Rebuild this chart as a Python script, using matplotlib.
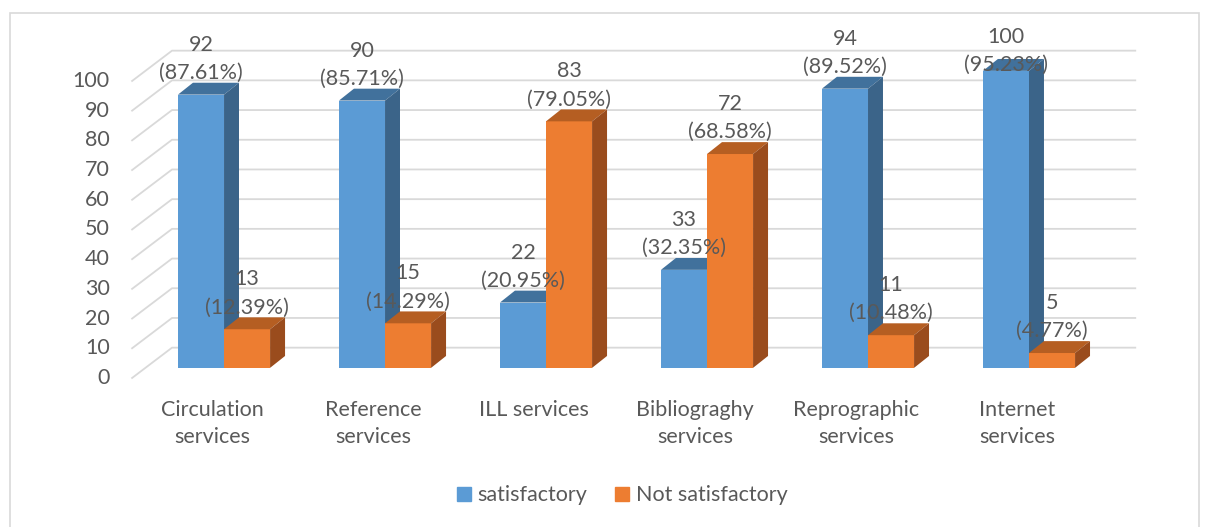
import matplotlib.pyplot as plt
from matplotlib.patches import Polygon, Rectangle, Patch

categories = ["Circulation\nservices", "Reference\nservices", "ILL services",
              "Bibliograghy\nservices", "Reprographic\nservices", "Internet\nservices"]
satisfactory = [92, 90, 22, 33, 94, 100]
satisfactory_pct = ["87.61%", "85.71%", "20.95%", "32.35%", "89.52%", "95.23%"]
not_satisfactory = [13, 15, 83, 72, 11, 5]
not_satisfactory_pct = ["12.39%", "14.29%", "79.05%", "68.58%", "10.48%", "4.77%"]
yticks = list(range(0, 101, 10))

plt.rcParams['font.family'] = ['Lato', 'DejaVu Sans']
txt = '#595959'
grid = '#D9D9D9'
fs = 15.5

fig = plt.figure(figsize=(12.08, 5.27), dpi=100)
ax = fig.add_axes([0.0855, 0.178, 0.8996, 0.789])
ax.set_xlim(-0.75, 6.0)
ax.set_ylim(-22, 118)
ax.axis('off')

# chart border
fig.patches.append(Rectangle((10 / 1208, -0.1), 1189 / 1208, 1.1 - 13 / 527,
                             transform=fig.transFigure, fill=False,
                             edgecolor='#D9D9D9', lw=1.2))

# 3d-ish geometry (in data units)
w = 0.286          # bar width
bdx, bdv = 0.093, 4.0    # bar depth offset
fx, fdv = -0.571, -3.4   # front edge of wall
bx, bdv2 = -0.323, 6.8   # back wall start
xend = 5.66

# walls / gridlines
for t in yticks:
    ax.plot([fx, bx, xend], [t + fdv, t + bdv2, t + bdv2], color=grid, lw=1.3, zorder=1)
    ax.text(fx - 0.14, t + fdv, str(t), ha='right', va='center', fontsize=fs, color=txt)


def bar3d(x0, v, front, top, side):
    ax.bar(x0, v, width=w, align='edge', color=front, zorder=2, linewidth=0)
    ax.add_patch(Polygon([(x0, v), (x0 + bdx, v + bdv), (x0 + w + bdx, v + bdv), (x0 + w, v)],
                         closed=True, facecolor=top, edgecolor='none', zorder=2))
    ax.add_patch(Polygon([(x0 + w, 0), (x0 + w + bdx, bdv), (x0 + w + bdx, v + bdv), (x0 + w, v)],
                         closed=True, facecolor=side, edgecolor='none', zorder=2))


for i in range(len(categories)):
    bar3d(i - w, satisfactory[i], '#5B9BD5', '#41719C', '#3B6489')
    bar3d(i, not_satisfactory[i], '#ED7D31', '#B55E22', '#9A4C1D')
    ax.text(i - w / 2, min(satisfactory[i] + 4.0, 98.5),
            f"{satisfactory[i]}\n({satisfactory_pct[i]})",
            ha='center', va='bottom', fontsize=fs, color=txt, linespacing=1.5, zorder=5)
    ax.text(i + w / 2, min(not_satisfactory[i] + 4.0, 98.5),
            f"{not_satisfactory[i]}\n({not_satisfactory_pct[i]})",
            ha='center', va='bottom', fontsize=fs, color=txt, linespacing=1.5, zorder=5)
    ax.text(i - 0.075, -10.9, categories[i], ha='center', va='top',
            fontsize=fs, color=txt, linespacing=1.45)

handles = [Patch(color='#5B9BD5', label='satisfactory'),
           Patch(color='#ED7D31', label='Not satisfactory')]
leg = fig.legend(handles=handles, loc='center', bbox_to_anchor=(0.515, 0.06), ncol=2,
                 frameon=False, fontsize=fs, handlelength=0.65, handleheight=0.65,
                 handletextpad=0.3, columnspacing=1.3)
for t in leg.get_texts():
    t.set_color(txt)

fig.savefig('out.png', dpi=100)
